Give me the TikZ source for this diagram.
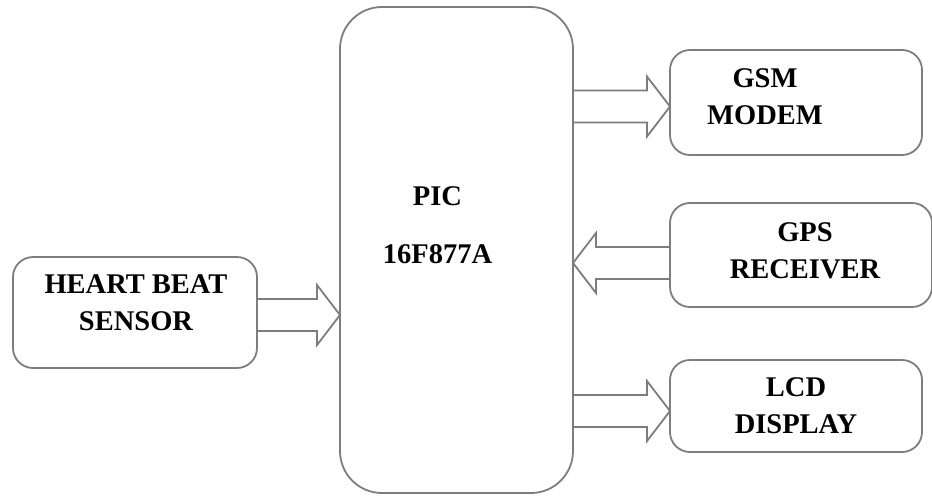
\documentclass[tikz,border=0pt]{standalone}
\usepackage{fontspec}
\setmainfont{Liberation Serif}
\usetikzlibrary{calc}
\definecolor{lineGray}{RGB}{125,125,125}
\tikzset{
    block/.style={rectangle, draw=lineGray, line width=1.8pt, rounded corners=20pt,
                  inner sep=0pt, outer sep=0pt},
    blockText/.style={align=center, inner sep=0pt, text=black,
                  font=\fontsize{28.5}{37}\selectfont\bfseries},
    fatLine/.style={draw=lineGray, line width=1.8pt, line join=miter}
}
% hollow block arrow: tail anchor, tip anchor, drop of its axis below the tail
\newcommand{\fatarrow}[3]{%
  \draw [fatLine] let \p1=($(#1)+(0,#3)$), \p2=(#2),
        \p3=($(\x2,\y1)!23pt!(\x1,\y1)$) in
    (\x1,\y1+16pt) -- (\x3,\y1+16pt) -- (\x3,\y1+30pt) -- (\x2,\y1)
    -- (\x3,\y1-30pt) -- (\x3,\y1-16pt) -- (\x1,\y1-16pt);}

\begin{document}
\begin{tikzpicture}[x=1pt, y=-1pt]
  \useasboundingbox (0,0) rectangle (932,496);

  \node [block, minimum width=233pt, minimum height=486pt, rounded corners=42pt,
         label={[blockText, xshift=-19pt, yshift=25pt]center:PIC\\[21pt]16F877A}] (PIC) at (456.5,250) {};
  \node [block, minimum width=244pt, minimum height=111pt,
         label={[blockText, xshift=1pt, yshift=10pt]center:HEART BEAT\\SENSOR}] (HB) at (135,312.5) {};
  \node [block, minimum width=252pt, minimum height=105pt,
         label={[blockText, xshift=-31pt, yshift=6pt]center:GSM\\MODEM}] (GSM) at (796,102.5) {};
  \node [block, minimum width=262pt, minimum height=104pt,
         label={[blockText, xshift=4pt, yshift=4pt]center:GPS\\RECEIVER}] (GPS) at (801,255) {};
  \node [block, minimum width=252pt, minimum height=92pt,
         label={[blockText]center:LCD\\DISPLAY}] (LCD) at (796,406) {};

  \fatarrow{HB.east}{PIC.west}{2.5}
  \fatarrow{PIC.east |- GSM.west}{GSM.west}{4}
  \fatarrow{GPS.west}{PIC.east}{8}
  \fatarrow{PIC.east |- LCD.west}{LCD.west}{5}
\end{tikzpicture}
\end{document}
